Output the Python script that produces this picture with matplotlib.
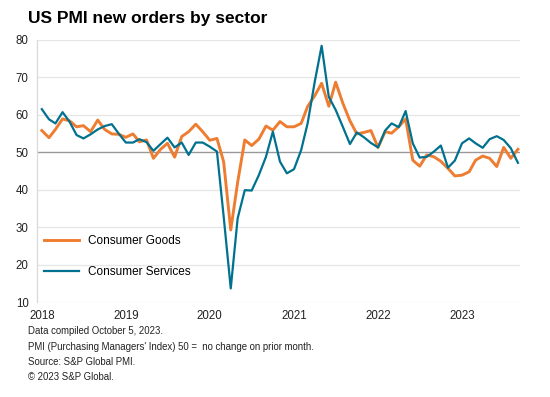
import pandas as pd
import matplotlib
matplotlib.use('Agg')
import matplotlib.pyplot as plt
import matplotlib.dates as mdates

plt.rcParams['font.family'] = ['Liberation Sans', 'DejaVu Sans']

# monthly PMI new orders, Jan 2018 - Sep 2023
months = pd.date_range('2018-01-01', periods=69, freq='MS')

consumer_goods = [55.8, 53.9, 56.1, 58.9, 58.4, 56.8, 57.1, 55.5, 58.6, 56.1, 54.9, 54.8,
                  54.0, 54.9, 52.8, 53.3, 48.4, 50.8, 52.4, 48.7, 54.2, 55.5, 57.5, 55.5,
                  53.2, 53.7, 47.5, 29.3, 42.0, 53.3, 51.8, 53.5, 57.0, 55.9, 58.2, 56.8,
                  56.8, 57.7, 62.2, 65.1, 68.4, 62.3, 68.7, 63.1, 58.4, 54.9, 55.3, 55.8,
                  51.3, 55.5, 55.1, 56.8, 58.9, 47.9, 46.3, 49.3, 48.8, 47.6, 45.7, 43.7,
                  43.9, 44.8, 47.9, 49.0, 48.4, 46.2, 51.3, 48.4, 50.8]

consumer_services = [61.5, 58.8, 57.7, 60.7, 58.2, 54.6, 53.7, 54.8, 56.1, 57.0, 57.5, 55.0,
                     52.6, 52.6, 53.5, 52.7, 50.4, 52.2, 53.9, 51.3, 52.6, 49.3, 52.6, 52.6,
                     51.5, 50.2, 33.0, 13.7, 32.4, 39.9, 39.8, 43.9, 48.8, 55.5, 47.5, 44.4,
                     45.5, 50.6, 57.7, 68.8, 78.4, 64.8, 61.3, 56.8, 52.2, 55.3, 54.0, 52.5,
                     51.3, 55.8, 57.7, 56.7, 61.0, 52.4, 48.6, 48.8, 50.2, 51.8, 45.9, 47.8,
                     52.4, 53.7, 52.4, 51.2, 53.5, 54.3, 53.3, 51.1, 47.2]

goods_color = '#EE7D31'
services_color = '#00718F'

fig = plt.figure(figsize=(5.5, 3.97), dpi=100)
ax = fig.add_axes([37 / 550, 1 - 302.3 / 397, 483 / 550, 262.5 / 397])

ax.plot(months, consumer_goods, color=goods_color, lw=2.1, label='Consumer Goods', solid_joinstyle='round')
ax.plot(months, consumer_services, color=services_color, lw=1.6, label='Consumer Services', solid_joinstyle='round')

ax.set_ylim(10, 80)
ax.set_yticks(range(10, 81, 10))
ax.set_xlim(pd.Timestamp('2017-12-11'), pd.Timestamp('2023-09-10'))
ax.xaxis.set_major_locator(mdates.YearLocator())
ax.xaxis.set_major_formatter(mdates.DateFormatter('%Y'))

# grid, with a darker line at 50 (no change)
for v in range(10, 81, 10):
    if v == 50:
        ax.axhline(v, color='#999999', lw=1.0, zorder=0)
    else:
        ax.axhline(v, color='#E6E6E6', lw=0.9, zorder=0)

for s in ['top', 'right', 'bottom']:
    ax.spines[s].set_visible(False)
ax.spines['left'].set_color('#D9D9D9')
ax.spines['left'].set_linewidth(0.9)
ax.tick_params(length=0, labelsize=8.3, colors='#222222')
ax.tick_params(axis='y', pad=6)
ax.tick_params(axis='x', pad=5.5)

ax.legend(loc='center left', bbox_to_anchor=(0.0145, 0.1745), frameon=False,
          fontsize=8.5, handlelength=3.0, handletextpad=0.75, labelspacing=1.6,
          borderpad=0, borderaxespad=0)

fig.text(28 / 550, 1 - 19 / 397, 'US PMI new orders by sector', fontsize=12.5,
         fontweight='bold', ha='left', va='center')

notes = ['Data compiled October 5, 2023.',
         "PMI (Purchasing Managers' Index) 50 =  no change on prior month.",
         'Source: S&P Global PMI.',
         '\u00a9 2023 S&P Global.']
for i, line in enumerate(notes):
    fig.text(28 / 550, 1 - (331.5 + i * 15.3) / 397, line, fontsize=6.9,
             ha='left', va='center', color='#222222')

fig.savefig('out.png', dpi=100)
